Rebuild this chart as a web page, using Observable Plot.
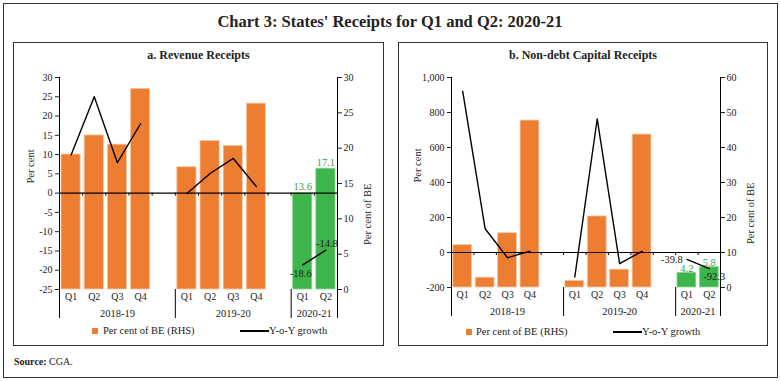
<!DOCTYPE html>
<html><head><meta charset="utf-8">
<script src="https://cdn.jsdelivr.net/npm/d3@7"></script>
<script src="https://cdn.jsdelivr.net/npm/@observablehq/plot@0.6"></script>
<style>
body{margin:0;background:#fff;font-family:"Liberation Serif",serif;color:#222}
#page{position:relative;width:780px;height:381px;overflow:hidden;background:#fff}
.abs{position:absolute;white-space:nowrap}
.box{position:absolute;border:1px solid #333;box-sizing:border-box}
.holder{position:absolute;top:0;width:390px;height:340px}
.holder svg{position:absolute;top:0;left:0;overflow:visible;max-width:none}
.sq{position:absolute;width:6px;height:6px;background:#ED7D31}
.ln{position:absolute;height:2px;background:#000}
.lt{position:absolute;font-size:10.5px;line-height:12px;white-space:nowrap}
</style></head><body>
<div id="page">
 <div class="box" style="left:3px;top:3px;width:775px;height:375px"></div>
 <div class="abs" style="left:0;top:12px;width:780px;text-align:center;font-weight:bold;font-size:16.5px;line-height:20px">Chart 3: States' Receipts for Q1 and Q2: 2020-21</div>
 <div class="box" style="left:13px;top:42px;width:371px;height:304px"></div>
 <div class="box" style="left:398px;top:42px;width:370px;height:304px"></div>
 <div class="abs" style="left:13px;top:48px;width:371px;text-align:center;font-weight:bold;font-size:12px;line-height:14px">a. Revenue Receipts</div>
 <div class="abs" style="left:398px;top:48px;width:370px;text-align:center;font-weight:bold;font-size:12px;line-height:14px">b. Non-debt Capital Receipts</div>
 <div class="holder" id="pa" style="left:0"></div>
 <div class="holder" id="pb" style="left:390px"></div>
 <div class="sq" style="left:92px;top:328px"></div>
 <div class="lt" style="left:103px;top:325px">Per cent of BE (RHS)</div>
 <div class="ln" style="left:240px;top:330px;width:29px"></div>
 <div class="lt" style="left:269px;top:325px">Y-o-Y growth</div>
 <div class="sq" style="left:466px;top:329px"></div>
 <div class="lt" style="left:476px;top:326px">Per cent of BE (RHS)</div>
 <div class="ln" style="left:613px;top:331px;width:29px"></div>
 <div class="lt" style="left:642px;top:326px">Y-o-Y growth</div>
 <div class="abs" style="left:14px;top:356px;font-size:10px;line-height:12px"><b>Source:</b> CGA.</div>
</div>
<script>
// ---- data ----
const years = ["2018-19", "2019-20", "2020-21"];
const quarters = [["Q1", "Q2", "Q3", "Q4"], ["Q1", "Q2", "Q3", "Q4"], ["Q1", "Q2"]];
const revenueBE = [19.1, 21.8, 20.5, 28.4, 17.3, 21.0, 20.3, 26.3, 13.6, 17.1];
const revenueGrowth = [9.9, 25.0, 7.9, 18.0, -0.1, 5.1, 9.0, 1.7, -18.6, -14.8];
const capitalBE = [12.1, 2.8, 15.5, 47.7, 1.9, 20.3, 5.1, 43.7, 4.2, 5.8];
const capitalGrowth = [921, 136, -30, 8, -140, 763, -64, 7, -39.8, -92.3];
const revenueLeftTicks = [-25, -20, -15, -10, -5, 0, 5, 10, 15, 20, 25, 30];
const revenueRightTicks = [0, 5, 10, 15, 20, 25, 30];
const capitalLeftTicks = [-200, 0, 200, 400, 600, 800, 1000];
const capitalRightTicks = [0, 10, 20, 30, 40, 50, 60];
const highlightYear = "2020-21";

// ---- structure ----
const groups = [];
let off = 0;
years.forEach((y, g) => { groups.push({year: y, start: off, size: quarters[g].length}); off += quarters[g].length + 1; });
const nSlots = off - 1;
const separators = [...groups.map(g => g.start), nSlots];
groups.forEach((g, i) => { g.center = (separators[i] + separators[i + 1]) / 2; });

function rows(be, gr) {
  const out = []; let k = 0;
  groups.forEach((g, gi) => quarters[gi].forEach((q, qi) => {
    out.push({year: g.year, q, slot: g.start + qi, be: be[k], growth: gr[k]}); k++;
  }));
  return out;
}

const ORANGE = "#ED7D31", ORANGE_EDGE = "#F7C7A3", GREEN = "#3DB54A", GREEN_TEXT = "#3E9E46";
const fmt = v => v.toLocaleString("en-US");
const baseStyle = {fontFamily: "Liberation Serif, serif", fontSize: "10px", color: "#222", background: "transparent", overflow: "visible"};

function panel(el, cfg) {
  const data = rows(cfg.be, cfg.growth);
  const hl = data.filter(d => d.year === highlightYear);
  const dims = {width: 390, height: 340, marginLeft: cfg.ml, marginRight: cfg.mr, marginTop: 77, marginBottom: cfg.mb};
  const bars = Plot.plot({
    ...dims,
    style: baseStyle,
    x: {domain: [0, nSlots], axis: null},
    y: {domain: [0, cfg.rightTicks[cfg.rightTicks.length - 1]], axis: null},
    marks: [
      Plot.rect(data, {x1: "slot", x2: d => d.slot + 1, y1: 0, y2: "be",
        fill: d => d.year === highlightYear ? GREEN : ORANGE,
        stroke: d => d.year === highlightYear ? "#8fd497" : ORANGE_EDGE, strokeWidth: 0.8,
        insetLeft: cfg.inset, insetRight: cfg.inset}),
      Plot.axisY(cfg.rightTicks, {anchor: "right", tickSize: 4, tickPadding: 2, tickFormat: fmt, label: null, fontSize: 10}),
      Plot.ruleX([nSlots], {stroke: "#000", strokeWidth: 1}),
      Plot.ruleX(separators, {y1: 0, y2: 0, insetBottom: -29, stroke: "#000", strokeWidth: 1}),
      Plot.text(data, {x: d => d.slot + 0.5, y: 0, text: "q", lineAnchor: "top", dy: 3, fontSize: 10}),
      Plot.text(groups, {x: "center", y: 0, text: "year", lineAnchor: "top", dy: 20, fontSize: 10.5}),
      Plot.text(hl, {x: d => d.slot + 0.5, y: "be", text: d => d.be.toFixed(1), lineAnchor: "bottom", dy: cfg.beDy, fill: GREEN_TEXT, fontSize: 10.5}),
      Plot.text(["Per cent of BE"], {text: d => d, frameAnchor: "right", rotate: -90, dx: 30, fontSize: 10.5})
    ]
  });
  const lines = Plot.plot({
    ...dims,
    style: baseStyle,
    x: {domain: [0, nSlots], axis: null},
    y: {domain: [cfg.leftTicks[0], cfg.leftTicks[cfg.leftTicks.length - 1]], axis: null},
    marks: [
      Plot.axisY(cfg.leftTicks, {anchor: "left", tickSize: 4, tickPadding: 3, tickFormat: fmt, label: null, fontSize: 10}),
      Plot.ruleX([0], {stroke: "#000", strokeWidth: 1}),
      Plot.ruleY([0], {stroke: "#000", strokeWidth: 1.2}),
      Plot.ruleX(d3.range(1, nSlots), {y1: 0, y2: 0, insetBottom: -3, stroke: "#000", strokeWidth: 1}),
      Plot.line(data, {x: d => d.slot + 0.5, y: "growth", z: "year", stroke: "#000", strokeWidth: 1.4}),
      ...hl.map((d, i) => Plot.text([d], {x: d => d.slot + 0.5, y: "growth", text: d => d.growth.toFixed(1),
        textAnchor: cfg.gl[i].anchor, dx: cfg.gl[i].dx, dy: cfg.gl[i].dy, fill: "#222", fontSize: 10.5})),
      Plot.text(["Per cent"], {text: d => d, frameAnchor: "left", rotate: -90, dx: cfg.ltDx, fontSize: 10.5})
    ]
  });
  el.append(bars, lines);
}

panel(document.getElementById("pa"), {
  be: revenueBE, growth: revenueGrowth, leftTicks: revenueLeftTicks, rightTicks: revenueRightTicks,
  ml: 59, mr: 53, mb: 51, inset: 2, beDy: -3, ltDx: -29,
  gl: [{anchor: "middle", dx: -2, dy: 9}, {anchor: "middle", dx: 1, dy: -7}]
});
panel(document.getElementById("pb"), {
  be: capitalBE, growth: capitalGrowth, leftTicks: capitalLeftTicks, rightTicks: capitalRightTicks,
  ml: 61, mr: 60, mb: 53, inset: 1.8, beDy: -1, ltDx: -34,
  gl: [{anchor: "end", dx: -4, dy: 0}, {anchor: "middle", dx: 5, dy: 8}]
});
</script>
</body></html>
